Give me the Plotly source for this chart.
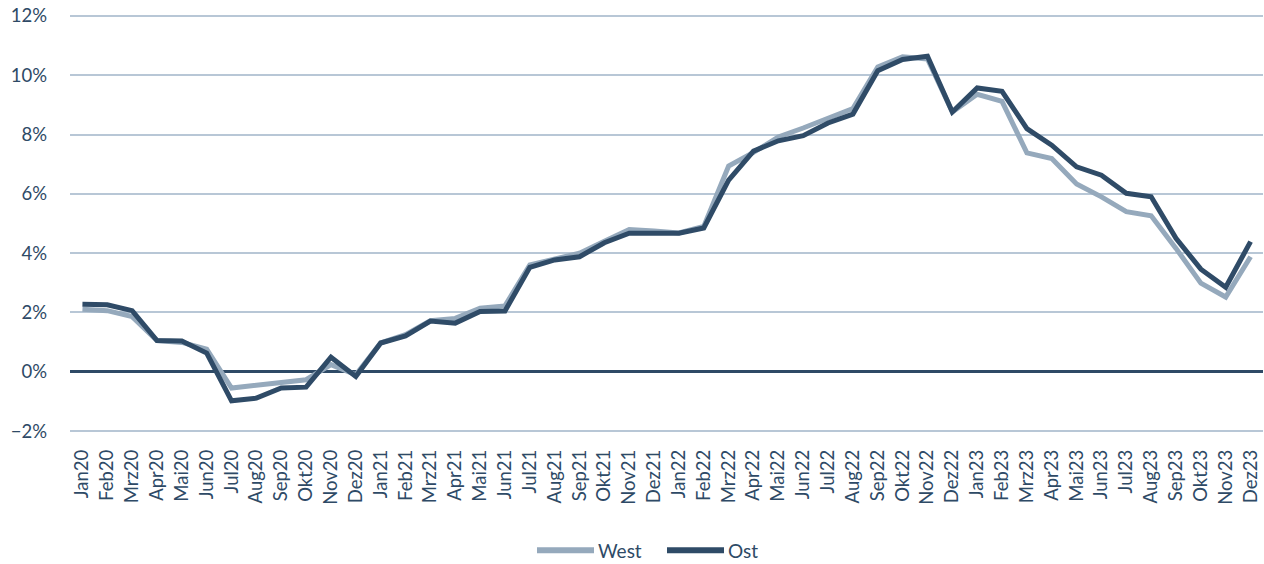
import plotly.graph_objects as go

months = ["Jan", "Feb", "Mrz", "Apr", "Mai", "Jun", "Jul", "Aug", "Sep", "Okt", "Nov", "Dez"]
years = ["20", "21", "22", "23"]
labels = [m + y for y in years for m in months]

# Veränderung ggü. Vorjahr in %
west = [2.11, 2.06, 1.86, 1.05, 0.99, 0.76, -0.55, -0.46, -0.38, -0.27, 0.24, -0.10,
        0.97, 1.25, 1.72, 1.80, 2.14, 2.22, 3.60, 3.80, 4.00, 4.40, 4.80, 4.75,
        4.68, 4.90, 6.94, 7.40, 7.92, 8.22, 8.54, 8.88, 10.28, 10.62, 10.55, 8.76,
        9.36, 9.12, 7.38, 7.19, 6.33, 5.90, 5.40, 5.26, 4.16, 2.99, 2.52, 3.88]
ost = [2.28, 2.26, 2.06, 1.05, 1.04, 0.63, -0.98, -0.89, -0.55, -0.52, 0.49, -0.16,
       0.97, 1.21, 1.71, 1.64, 2.03, 2.05, 3.52, 3.77, 3.88, 4.35, 4.67, 4.67,
       4.67, 4.85, 6.46, 7.44, 7.79, 7.96, 8.39, 8.69, 10.15, 10.53, 10.64, 8.76,
       9.57, 9.46, 8.20, 7.64, 6.91, 6.63, 6.02, 5.90, 4.50, 3.46, 2.85, 4.39]

TEXT = "#2E4A66"
series = [("West", west, "#95A9BC"), ("Ost", ost, "#2F4B67")]

fig = go.Figure()
for name, vals, col in series:
    fig.add_trace(go.Scatter(x=labels, y=vals, name=name, mode="lines",
                             line=dict(color=col, width=5), showlegend=False))

# body margin is removed below, so figure = full window
W, H = 1264, 564
L, T, R, B = 70, 13, 1263, 434.5
PW, PH = R - L, B - T
def px(x):
    return (x - L) / PW
def py(y):
    return (B - y) / PH

# eigene Legende mit längeren Linien (wie Excel)
leg_y = 551
for (name, vals, col), x0 in zip(series, [537, 667]):
    fig.add_shape(type="line", xref="paper", yref="paper", x0=px(x0), x1=px(x0 + 57),
                  y0=py(leg_y), y1=py(leg_y), line=dict(color=col, width=6))
    fig.add_annotation(xref="paper", yref="paper", x=px(x0 + 59), y=py(leg_y), text=name,
                       showarrow=False, xanchor="left", yanchor="middle",
                       font=dict(size=19, color=TEXT))

fig.update_layout(
    width=W, height=H,
    margin=dict(l=L, r=W - R, t=T, b=H - B),
    plot_bgcolor="white", paper_bgcolor="white",
    font=dict(family="Lato, Open Sans, sans-serif", size=18.5, color=TEXT),
    hovermode="x unified",
)
fig.update_xaxes(type="category", range=[-0.5, 47.5], tickangle=-90, showgrid=False,
                 showline=False, ticks="", automargin=False, ticklabelstandoff=11)
fig.update_yaxes(range=[-2.1, 12.1], tick0=0, dtick=2, ticksuffix="%", showgrid=True,
                 gridcolor="#B8C7D6", gridwidth=1.5, zeroline=True, zerolinecolor="#2E4A66",
                 zerolinewidth=2.5, ticks="", ticklabelstandoff=22, automargin=False,
                 ticklabeloverflow="allow")

fig.write_html("out.html", config={"displayModeBar": False},
               post_script="document.body.style.margin='0';document.body.style.overflow='hidden';")
